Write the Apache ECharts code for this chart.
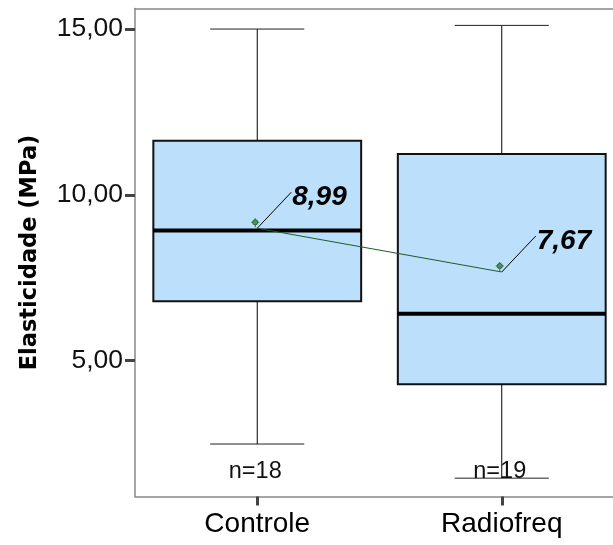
<!DOCTYPE html>
<html>
<head>
<meta charset="utf-8">
<script src="https://cdn.jsdelivr.net/npm/echarts@6/dist/echarts.min.js"></script>
<style>
html,body{margin:0;padding:0;background:#fff;}
#chart{width:613px;height:545px;}
</style>
</head>
<body>
<div id="chart"></div>
<script>
// ---- data ----
const categories = ['Controle', 'Radiofreq'];
const whiskerLow  = [2.48, 1.45];
const q1          = [6.79, 4.28];
const median      = [8.92, 6.41];
const q3          = [11.63, 11.23];
const whiskerHigh = [15.00, 15.11];
const means       = [8.99, 7.67];
const meanLabels  = ['8,99', '7,67'];
const nLabels     = ['n=18', 'n=19'];
const yTicks      = [5, 10, 15];
const yTitle      = 'Elasticidade (MPa)';

// axis extents
const Y_MIN = 0.897, Y_MAX = 15.62;
const X_MIN = 0.5, X_MAX = 2.455;

const boxData = categories.map((c, i) => [i + 1, whiskerLow[i], q1[i], median[i], q3[i], whiskerHigh[i]]);
const meanData = categories.map((c, i) => [i + 1, means[i], meanLabels[i]]);
const nData = categories.map((c, i) => [i + 1, Y_MIN, nLabels[i]]);

const chart = echarts.init(document.getElementById('chart'), null, {renderer: 'canvas'});

function renderBox(params, api) {
  const x = api.value(0);
  const pLow = api.coord([x, api.value(1)]);
  const pQ1 = api.coord([x, api.value(2)]);
  const pMed = api.coord([x, api.value(3)]);
  const pQ3 = api.coord([x, api.value(4)]);
  const pHigh = api.coord([x, api.value(5)]);
  const halfBox = api.size([0.85, 0])[0] / 2;
  const halfCap = api.size([0.385, 0])[0] / 2;
  const cx = pMed[0];
  return {
    type: 'group',
    children: [
      {type: 'line', shape: {x1: cx, y1: pQ3[1], x2: cx, y2: pHigh[1]}, style: {stroke: '#000', lineWidth: 1}},
      {type: 'line', shape: {x1: cx, y1: pQ1[1], x2: cx, y2: pLow[1]}, style: {stroke: '#000', lineWidth: 1}},
      {type: 'line', shape: {x1: cx - halfCap, y1: pHigh[1], x2: cx + halfCap, y2: pHigh[1]}, style: {stroke: '#222', lineWidth: 1}},
      {type: 'line', shape: {x1: cx - halfCap, y1: pLow[1], x2: cx + halfCap, y2: pLow[1]}, style: {stroke: '#222', lineWidth: 1}},
      {type: 'rect', shape: {x: cx - halfBox, y: pQ3[1], width: 2 * halfBox, height: pQ1[1] - pQ3[1]},
        style: {fill: '#bce0fc', stroke: '#111', lineWidth: 2}},
      {type: 'line', shape: {x1: cx - halfBox, y1: pMed[1], x2: cx + halfBox, y2: pMed[1]}, style: {stroke: '#000', lineWidth: 4}}
    ]
  };
}

function renderMean(params, api) {
  const p = api.coord([api.value(0), api.value(1)]);
  const label = meanLabels[params.dataIndex];
  const m = [p[0] - 2, p[1] - 6];
  return {
    type: 'group',
    children: [
      {type: 'line', shape: {x1: p[0], y1: p[1], x2: p[0] + 34, y2: p[1] - 36}, style: {stroke: '#000', lineWidth: 1}},
      {type: 'line', shape: {x1: m[0] - 4, y1: m[1], x2: m[0] + 4, y2: m[1]}, style: {stroke: '#2f6b3f', lineWidth: 1}},
      {type: 'line', shape: {x1: m[0], y1: m[1] - 4, x2: m[0], y2: m[1] + 5}, style: {stroke: '#2f6b3f', lineWidth: 1}},
      {type: 'circle', shape: {cx: m[0], cy: m[1], r: 2.6}, style: {fill: '#4f8f5f', stroke: '#2f6b3f', lineWidth: 1}},
      {type: 'text', x: p[0] + 35, y: p[1] - 31,
        style: {text: label, fill: '#000', font: 'italic bold 28px "Liberation Sans", Arial, sans-serif',
          align: 'left', verticalAlign: 'middle'}}
    ]
  };
}

function renderN(params, api) {
  const p = api.coord([api.value(0), api.value(1)]);
  return {
    type: 'text', x: p[0] - 2, y: p[1] - 13,
    style: {text: nLabels[params.dataIndex], fill: '#111', font: '23.5px "Liberation Sans", Arial, sans-serif',
      align: 'center', verticalAlign: 'bottom'}
  };
}

const frameLine = {show: true, lineStyle: {color: '#888', width: 1.5}};

chart.setOption({
  animation: false,
  backgroundColor: '#fff',
  grid: {left: 135, top: 8.5, right: 0, bottom: 48.5, show: false},
  xAxis: [{
    type: 'value', min: X_MIN, max: X_MAX,
    axisLine: frameLine,
    splitLine: {show: false},
    axisTick: {show: true, customValues: [1, 2], length: 9, lineStyle: {color: '#444', width: 3}},
    axisLabel: {customValues: [1, 2], margin: 14, color: '#000',
      fontFamily: '"Liberation Sans", Arial, sans-serif', fontSize: 28,
      formatter: v => categories[Math.round(v) - 1] || ''}
  }, {
    type: 'value', min: X_MIN, max: X_MAX, position: 'top',
    axisLine: frameLine, axisTick: {show: false}, axisLabel: {show: false}, splitLine: {show: false}
  }],
  yAxis: {
    type: 'value', min: Y_MIN, max: Y_MAX,
    name: yTitle, nameLocation: 'middle', nameRotate: 90, nameGap: 93,
    nameTextStyle: {fontFamily: '"DejaVu Sans", sans-serif', fontWeight: 'bold', fontSize: 22.5, color: '#000'},
    axisLine: frameLine,
    splitLine: {show: false},
    axisTick: {show: true, customValues: yTicks, length: 10, lineStyle: {color: '#444', width: 3}},
    axisLabel: {customValues: yTicks, margin: 12, color: '#111',
      fontFamily: '"Liberation Sans", Arial, sans-serif', fontSize: 26.5,
      formatter: v => v.toFixed(2).replace('.', ',')}
  },
  series: [
    {type: 'custom', name: 'box', renderItem: renderBox, data: boxData, z: 2, encode: {x: 0, y: [1, 2, 3, 4, 5]}},
    {type: 'custom', name: 'n', renderItem: renderN, data: nData, z: 3, encode: {x: 0, y: 1}},
    {type: 'line', name: 'meanLine', data: means.map((v, i) => [i + 1, v]), symbol: 'none',
      lineStyle: {color: '#1f5a2a', width: 1}, z: 4},
    {type: 'custom', name: 'mean', renderItem: renderMean, data: meanData, z: 5, encode: {x: 0, y: 1}}
  ]
});
</script>
</body>
</html>
